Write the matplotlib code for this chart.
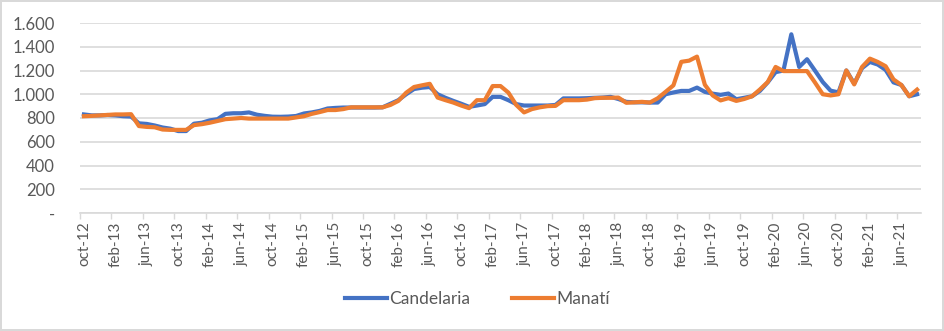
import matplotlib.pyplot as plt
from matplotlib.ticker import FixedLocator

# monthly series, oct-12 .. aug-21
candelaria = [830, 822, 822, 825, 822, 815, 812, 755, 750, 737,
              720, 710, 690, 690, 752, 760, 780, 790, 835, 840,
              840, 847, 828, 818, 811, 810, 812, 817, 838, 847,
              860, 880, 885, 888, 888, 888, 888, 888, 890, 920,
              950, 1000, 1044, 1055, 1061, 1000, 970, 944, 920, 894,
              905, 917, 978, 978, 950, 917, 905, 905, 905, 905,
              910, 965, 965, 965, 967, 970, 972, 978, 960, 936,
              932, 932, 930, 930, 1000, 1015, 1028, 1028, 1056, 1020,
              1005, 995, 1006, 958, 970, 983, 1028, 1100, 1186, 1200,
              1505, 1230, 1295, 1200, 1103, 1030, 1016, 1200, 1090, 1220,
              1272, 1250, 1205, 1100, 1078, 983, 1000]
manati = [815, 818, 822, 826, 830, 830, 832, 732, 725, 722,
          703, 700, 700, 700, 740, 748, 760, 775, 790, 795,
          800, 795, 795, 795, 795, 795, 795, 805, 815, 835,
          850, 867, 867, 875, 890, 890, 890, 890, 890, 910,
          944, 1013, 1061, 1075, 1088, 972, 950, 930, 905, 883,
          950, 950, 1069, 1069, 1014, 910, 847, 875, 890, 900,
          902, 950, 950, 950, 955, 967, 970, 970, 972, 928,
          932, 936, 930, 966, 1020, 1075, 1273, 1283, 1317, 1080,
          990, 948, 967, 944, 960, 983, 1040, 1103, 1230, 1195,
          1195, 1195, 1195, 1100, 1000, 990, 1000, 1200, 1083, 1230,
          1300, 1272, 1236, 1125, 1078, 983, 1039]

month_abbr = ["jan", "feb", "mar", "apr", "may", "jun",
              "jul", "aug", "sep", "oct", "nov", "dec"]
labels = []
for k in range(len(candelaria)):
    m = (9 + k) % 12
    y = 12 + (9 + k) // 12
    labels.append(f"{month_abbr[m]}-{y}")

y_ticks = [0, 200, 400, 600, 800, 1000, 1200, 1400, 1600]
y_labels = ["-", "200", "400", "600", "800", "1.000", "1.200", "1.400", "1.600"]

grey = "#595959"
plt.rcParams["font.family"] = ["Lato", "DejaVu Sans"]

fig = plt.figure(figsize=(9.44, 3.31), dpi=100)
fig.patch.set_edgecolor("#D9D9D9")
fig.patch.set_linewidth(1.5)
ax = fig.add_axes([80 / 944, 1 - 213 / 331, 841 / 944, 190 / 331])

x = list(range(len(candelaria)))
ax.plot(x, candelaria, color="#4472C4", linewidth=3, label="Candelaria",
        solid_joinstyle="round", zorder=3)
ax.plot(x, manati, color="#ED7D31", linewidth=3, label="Manatí",
        solid_joinstyle="round", zorder=4)

ax.set_xlim(-0.5, len(candelaria) - 0.5)
ax.set_ylim(0, 1600)
ax.set_yticks(y_ticks)
ax.set_yticklabels(y_labels)
ax.grid(axis="y", color="#D9D9D9", linewidth=1.2)
ax.set_axisbelow(True)

pos = x[::4]
ax.set_xticks(pos)
ax.set_xticklabels([labels[p] for p in pos], rotation=90)
ax.xaxis.set_minor_locator(FixedLocator([p - 0.5 for p in pos]))
ax.tick_params(axis="x", which="major", length=0, pad=6, labelsize=11, labelcolor=grey)
ax.tick_params(axis="x", which="minor", length=4, color="#D9D9D9", width=1)
ax.tick_params(axis="y", length=0, pad=18, labelsize=12, labelcolor=grey)

for s in ["top", "right", "left"]:
    ax.spines[s].set_visible(False)
ax.spines["bottom"].set_color("#D9D9D9")
ax.spines["bottom"].set_linewidth(1.2)

fig.legend(loc="center", bbox_to_anchor=(0.506, 1 - 299 / 331), ncol=2,
           frameon=False, fontsize=12.5, labelcolor=grey, handlelength=2.4,
           columnspacing=2.4, handletextpad=0.15)

plt.savefig("out.png", dpi=100, edgecolor=fig.get_edgecolor())
plt.close()
